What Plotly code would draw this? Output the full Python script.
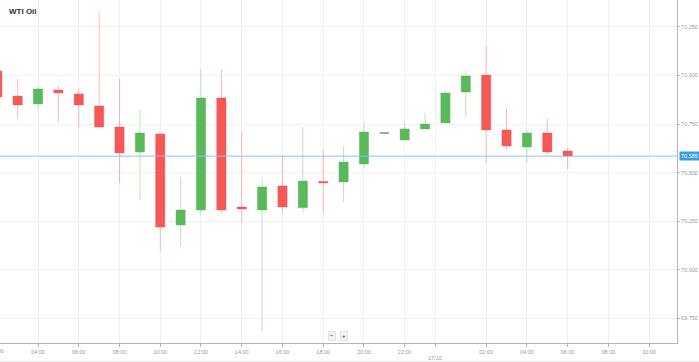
import pandas as pd
import plotly.graph_objects as go

# ---- data (hourly candles, WTI Oil) ----
times = list(pd.date_range("2018-10-16 02:00", "2018-10-17 06:00", freq="1h"))
opens  = [71.023, 70.894, 70.853, 70.925, 70.905, 70.843, 70.735, 70.606, 70.699, 70.231,
          70.308, 70.884, 70.324, 70.308, 70.432, 70.319, 70.455, 70.452, 70.545, 70.704,
          70.668, 70.725, 70.756, 70.915, 71.002, 70.720, 70.632, 70.704, 70.612]
highs  = [71.060, 70.982, 70.941, 70.951, 70.930, 71.331, 70.982, 70.827, 70.702, 70.473,
          71.033, 71.033, 70.709, 70.477, 70.586, 70.735, 70.617, 70.637, 70.761, 70.704,
          70.756, 70.807, 70.920, 71.023, 71.151, 70.833, 70.720, 70.781, 70.627]
lows   = [70.860, 70.776, 70.822, 70.761, 70.730, 70.730, 70.448, 70.361, 70.097, 70.124,
          70.283, 70.288, 70.241, 69.686, 70.293, 70.293, 70.293, 70.349, 70.524, 70.704,
          70.668, 70.725, 70.756, 70.786, 70.550, 70.617, 70.550, 70.591, 70.519]
closes = [70.889, 70.848, 70.930, 70.910, 70.848, 70.735, 70.601, 70.704, 70.220, 70.308,
          70.884, 70.308, 70.313, 70.426, 70.324, 70.457, 70.447, 70.555, 70.709, 70.704,
          70.725, 70.750, 70.910, 70.997, 70.720, 70.637, 70.704, 70.606, 70.585]
y_ticks = [69.75, 70.0, 70.25, 70.5, 70.75, 71.0, 71.25]
x_ticks = list(pd.date_range("2018-10-16 02:00", "2018-10-17 10:00", freq="2h"))
day_mark = pd.Timestamp("2018-10-16 23:30")
day_label = "17/10"
title = "WTI Oil"
x_range = [pd.Timestamp("2018-10-16 02:08"), pd.Timestamp("2018-10-17 11:22")]
y_range = [69.624, 71.388]

GREEN = "#5cb85c"
RED = "#f65757"

doji = [i for i in range(len(times)) if opens[i] == closes[i]]
normal = [i for i in range(len(times)) if opens[i] != closes[i]]

def pick(arr, idx):
    return [arr[i] for i in idx]

fig = go.Figure()
fig.add_trace(go.Candlestick(
    x=pick(times, normal), open=pick(opens, normal), high=pick(highs, normal),
    low=pick(lows, normal), close=pick(closes, normal),
    increasing=dict(line=dict(color="rgba(92,184,92,0.40)", width=1), fillcolor=GREEN),
    decreasing=dict(line=dict(color="rgba(246,87,87,0.40)", width=1), fillcolor=RED),
    whiskerwidth=0, showlegend=False, hoverinfo="skip",
))
fig.add_trace(go.Candlestick(
    x=pick(times, doji), open=pick(opens, doji), high=pick(highs, doji),
    low=pick(lows, doji), close=pick(closes, doji),
    increasing=dict(line=dict(color="#9a9a9a", width=1), fillcolor="#9a9a9a"),
    decreasing=dict(line=dict(color="#9a9a9a", width=1), fillcolor="#9a9a9a"),
    whiskerwidth=0, showlegend=False, hoverinfo="skip",
))

tickvals = [t for t in x_ticks if t.hour != 0] + [day_mark]
ticktext = [t.strftime("%H:%M") for t in x_ticks if t.hour != 0] + [""]

last = closes[-1]
fig.add_shape(type="line", xref="paper", x0=0, x1=1, yref="y", y0=last, y1=last,
              line=dict(color="#86c8f4", width=1))
fig.add_annotation(xref="paper", x=1.003, yref="y", y=last, text=f"{last:.3f}",
                   showarrow=False, xanchor="left", yanchor="middle",
                   bgcolor="#3d9ae8", font=dict(color="white", size=5.5),
                   borderpad=1)
fig.add_annotation(xref="x", x=day_mark, yref="paper", y=-0.028, text=day_label,
                   showarrow=False, xanchor="center", yanchor="top",
                   font=dict(color="#999999", size=5.5))
# first tick label, partly outside the plot on the left
span = (x_range[1] - x_range[0]).total_seconds()
first_paper = (times[0] - x_range[0]).total_seconds() / span
fig.add_annotation(xref="paper", x=first_paper, yref="paper", y=-0.008,
                   text=times[0].strftime("%H:%M"),
                   showarrow=False, xanchor="center", yanchor="top",
                   font=dict(color="#999999", size=5.5))
fig.add_annotation(xref="paper", x=0.01, yref="paper", y=0.985, text=f"<b>{title}</b>",
                   showarrow=False, xanchor="left", yanchor="top",
                   font=dict(color="#333333", size=8))
# zoom buttons
for xp, sym in [(0.491, "−"), (0.508, "+")]:
    fig.add_annotation(xref="paper", x=xp, yref="paper", y=0.005, text=f"<b>{sym}</b>",
                       showarrow=False, xanchor="center", yanchor="bottom",
                       bgcolor="#f4f4f4", bordercolor="#e2e2e2", borderwidth=1, borderpad=1,
                       font=dict(color="#555555", size=6))
fig.add_shape(type="line", xref="paper", x0=-0.01, x1=1.04, yref="paper", y0=-0.053, y1=-0.053,
              line=dict(color="#e6e6e6", width=1))

fig.update_layout(
    width=699, height=362,
    margin=dict(l=0, r=22, t=0, b=19),
    paper_bgcolor="white", plot_bgcolor="white",
    font=dict(family="Liberation Sans, Arial, sans-serif", color="#999999", size=5.5),
    boxgap=0.35,
    showlegend=False,
    xaxis=dict(
        type="date", range=x_range, rangeslider=dict(visible=False),
        tickvals=tickvals, ticktext=ticktext,
        showgrid=True, gridcolor="#f1f1f1", gridwidth=1,
        showline=True, linecolor="#b5b5b5", linewidth=1,
        ticks="outside", ticklen=3, tickcolor="#b5b5b5",
        tickfont=dict(size=5.5, color="#999999"),
        zeroline=False, automargin=False,
    ),
    yaxis=dict(
        range=y_range, side="right", tickvals=y_ticks,
        ticktext=[f"{v:.3f}" for v in y_ticks],
        showgrid=True, gridcolor="#f1f1f1", gridwidth=1,
        showline=True, linecolor="#b5b5b5", linewidth=1,
        ticks="outside", ticklen=2, tickcolor="#b5b5b5",
        tickfont=dict(size=5.5, color="#999999"),
        zeroline=False, automargin=False,
    ),
)

fig.write_html("out.html", config={"displayModeBar": False},
               post_script="document.body.style.margin='0';document.body.style.overflow='hidden';")
